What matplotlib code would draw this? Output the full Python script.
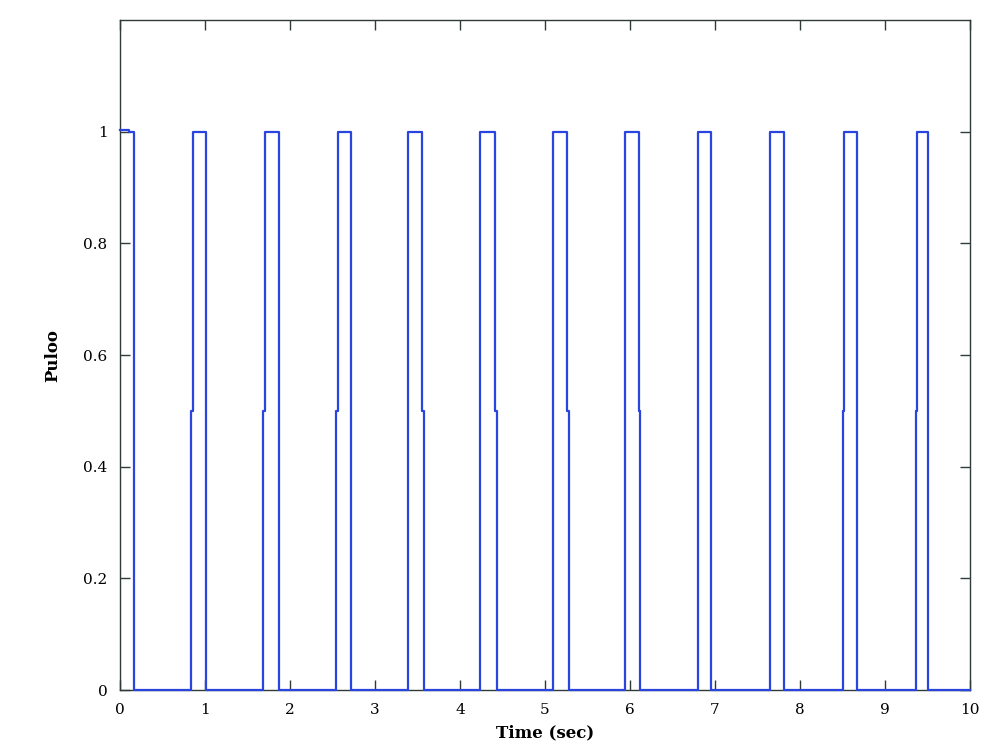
import numpy as np
import matplotlib
matplotlib.use("Agg")
import matplotlib.pyplot as plt

# Pulse data (seconds)
rise_times = [0.833, 1.688, 2.54, 3.386, 4.24, 5.09, 5.94, 6.80, 7.65, 8.50, 9.36]
fall_times = [1.013, 1.873, 2.717, 3.55, 4.41, 5.26, 6.10, 6.957, 7.81, 8.666, 9.51]
# side of the half-level jog: 'L' on the rising edge, 'R' on the falling edge, '' none
jog_side = ['L', 'L', 'L', 'R', 'R', 'R', 'R', '', '', 'L', 'L']
jog_width = 0.022
first_high_end = 0.165
first_high_level = [1.004, 1.0]
first_high_split = 0.1
t_end = 10.0
y_high = 1.0
y_half = 0.5
y_low = 0.0

# Build step path from data
xs = [0.0, first_high_split, first_high_split, first_high_end, first_high_end]
ys = [first_high_level[0], first_high_level[0], first_high_level[1], first_high_level[1], y_low]
for r, f, s in zip(rise_times, fall_times, jog_side):
    if s == 'L':
        xs += [r, r, r + jog_width, r + jog_width]
        ys += [y_low, y_half, y_half, y_high]
    else:
        xs += [r, r]
        ys += [y_low, y_high]
    if s == 'R':
        xs += [f, f, f + jog_width, f + jog_width]
        ys += [y_high, y_half, y_half, y_low]
    else:
        xs += [f, f]
        ys += [y_high, y_low]
xs.append(t_end)
ys.append(y_low)

x_ticks = list(range(0, 11))
y_ticks = [0, 0.2, 0.4, 0.6, 0.8, 1.0]
y_tick_labels = ["0", "0.2", "0.4", "0.6", "0.8", "1"]

plt.rcParams['font.family'] = ['DejaVu Serif']
fig = plt.figure(figsize=(10, 7.48), dpi=100)
ax = fig.add_axes([0.12, 0.0775, 0.85, 0.8955])

ax.plot(xs, ys, color='#2a44e0', linewidth=1.6, clip_on=False, zorder=3)

ax.set_xlim(0, 10)
ax.set_ylim(0, 1.2)
ax.set_xticks(x_ticks)
ax.set_xticklabels([str(t) for t in x_ticks])
ax.set_yticks(y_ticks)
ax.set_yticklabels(y_tick_labels)

spine_color = '#2f3b3b'
for sp in ax.spines.values():
    sp.set_color(spine_color)
    sp.set_linewidth(1.0)
ax.tick_params(direction='in', length=7, width=1.0, color=spine_color,
               top=True, right=True, labelsize=11, pad=9)

ax.set_xlabel('Time (sec)', fontsize=12, fontweight='bold', labelpad=6)
ax.set_ylabel('Puloo', fontsize=12, fontweight='bold', labelpad=16)

fig.savefig('out.png', dpi=100)
